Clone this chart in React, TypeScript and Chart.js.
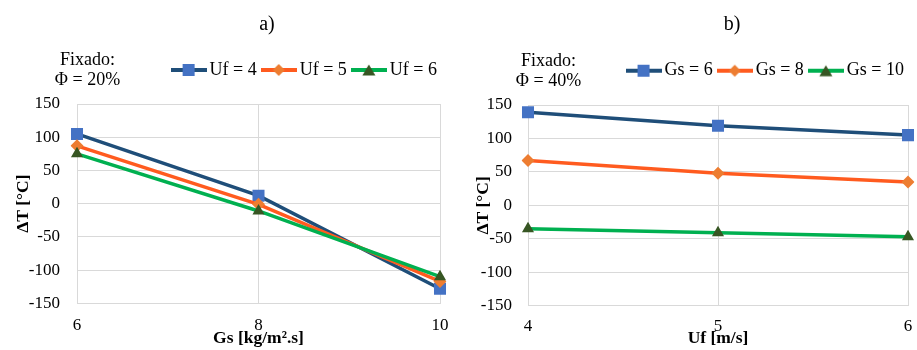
import React, { useEffect, useRef } from 'react';
import { Chart, registerables } from 'chart.js';

Chart.register(...registerables);

const FONT = '"Liberation Serif", "Times New Roman", serif';

// ---- data ----
const gsCategories = ['6', '8', '10'];
const ufCategories = ['4', '5', '6'];

const seriesUf4 = [105, 12, -128];
const seriesUf5 = [87, -1, -117];
const seriesUf6 = [75, -11, -110];

const seriesGs6 = [139, 119, 105];
const seriesGs8 = [67, 48, 35];
const seriesGs10 = [-35, -41, -47];

const namesA = ['Uf = 4', 'Uf = 5', 'Uf = 6'];
const namesB = ['Gs = 6', 'Gs = 8', 'Gs = 10'];

const yMin = -150;
const yMax = 150;
const yStep = 50;

// ---- styles ----
const lineColors = ['#1F4E79', '#FF5B1F', '#00B050'];
const markerColors = ['#4472C4', '#ED7D31', '#375623'];
const markerStyles = ['rect', 'rectRot', 'triangle'];
const markerRadii = [8.5, 6.5, 7];

function makeIcon(i: number): HTMLCanvasElement {
  const c = document.createElement('canvas');
  c.width = 36;
  c.height = 14;
  const ctx = c.getContext('2d')!;
  ctx.strokeStyle = lineColors[i];
  ctx.lineWidth = 4;
  ctx.beginPath();
  ctx.moveTo(0, 7);
  ctx.lineTo(36, 7);
  ctx.stroke();
  ctx.fillStyle = markerColors[i];
  ctx.beginPath();
  if (i === 0) {
    ctx.rect(12, 1, 12, 12);
  } else if (i === 1) {
    ctx.moveTo(18, 1);
    ctx.lineTo(24, 7);
    ctx.lineTo(18, 13);
    ctx.lineTo(12, 7);
    ctx.closePath();
  } else {
    ctx.moveTo(18, 1.5);
    ctx.lineTo(24.5, 12.5);
    ctx.lineTo(11.5, 12.5);
    ctx.closePath();
  }
  ctx.fill();
  return c;
}

type PanelDef = {
  x: number;
  w: number;
  categories: string[];
  series: number[][];
  names: string[];
  title: string;
  titlePos: [number, number];
  fixed: string[];
  fixedPos: [number, number, number];
  xTitle: string;
  padTop: number;
  padRight: number;
  legendExtra: number;
  yWidth: number;
  yTickPad: number;
  yTitlePad: number;
  xHeight: number;
  xTickPad: number;
  xPadRight: number;
};

const panels: PanelDef[] = [
  {
    x: 0,
    w: 458,
    categories: gsCategories,
    series: [seriesUf4, seriesUf5, seriesUf6],
    names: namesA,
    title: 'a)',
    titlePos: [267, 25],
    fixed: ['Fixado:', 'Φ = 20%'],
    fixedPos: [87.5, 60, 80],
    xTitle: 'Gs [kg/m².s]',
    padTop: 51,
    padRight: 11,
    legendExtra: 15,
    yWidth: 77,
    yTickPad: 17,
    yTitlePad: 13.3,
    xHeight: 46.7,
    xTickPad: 12.5,
    xPadRight: 18,
  },
  {
    x: 458,
    w: 459,
    categories: ufCategories,
    series: [seriesGs6, seriesGs8, seriesGs10],
    names: namesB,
    title: 'b)',
    titlePos: [274, 25],
    fixed: ['Fixado:', 'Φ = 40%'],
    fixedPos: [90.5, 61, 81],
    xTitle: 'Uf [m/s]',
    padTop: 51.7,
    padRight: 3,
    legendExtra: 15.3,
    yWidth: 70,
    yTickPad: 16,
    yTitlePad: 14.8,
    xHeight: 44.2,
    xTickPad: 10.5,
    xPadRight: 9,
  },
];

const legendGap = {
  id: 'legendGap',
  afterInit(chart: any, _args: any, opts: any) {
    const legend = chart.legend;
    if (legend && !legend.__patched) {
      const fit = legend.fit;
      legend.fit = function () {
        fit.call(this);
        this.height += opts.extra || 0;
      };
      legend.__patched = true;
    }
  },
};

const panelText = {
  id: 'panelText',
  afterDraw(chart: any, _args: any, opts: any) {
    const ctx = chart.ctx;
    ctx.save();
    ctx.fillStyle = '#000';
    ctx.textAlign = 'center';
    ctx.textBaseline = 'middle';
    ctx.font = `20px ${FONT}`;
    ctx.fillText(opts.title, opts.titlePos[0], opts.titlePos[1]);
    ctx.font = `18px ${FONT}`;
    ctx.fillText(opts.fixed[0], opts.fixedPos[0], opts.fixedPos[1]);
    ctx.fillText(opts.fixed[1], opts.fixedPos[0], opts.fixedPos[2]);
    ctx.restore();
  },
};

function buildConfig(p: PanelDef): any {
  const icons = p.names.map((_, i) => makeIcon(i));
  return {
    type: 'line',
    data: {
      labels: p.categories,
      datasets: p.series.map((data, i) => ({
        label: p.names[i],
        data,
        borderColor: lineColors[i],
        backgroundColor: markerColors[i],
        borderWidth: 3.5,
        tension: 0,
        fill: false,
        pointStyle: markerStyles[i],
        pointRadius: markerRadii[i],
        pointHoverRadius: markerRadii[i],
        pointBackgroundColor: markerColors[i],
        pointBorderColor: markerColors[i],
        pointBorderWidth: 0,
        order: 3 - i,
      })),
    },
    options: {
      animation: false,
      responsive: false,
      devicePixelRatio: 1,
      layout: { padding: { top: p.padTop, right: p.padRight, bottom: 0, left: 0 } },
      plugins: {
        title: { display: false },
        tooltip: { enabled: false },
        legend: {
          display: true,
          position: 'top',
          align: 'end',
          labels: {
            usePointStyle: true,
            pointStyleWidth: 24,
            padding: 10,
            color: '#000',
            font: { family: FONT, size: 18 },
            generateLabels: () =>
              p.names.map((n, i) => ({
                text: n,
                datasetIndex: i,
                pointStyle: icons[i],
                fillStyle: markerColors[i],
                strokeStyle: lineColors[i],
                lineWidth: 0,
                hidden: false,
                fontColor: '#000',
              })),
          },
        },
        legendGap: { extra: p.legendExtra },
        panelText: { title: p.title, titlePos: p.titlePos, fixed: p.fixed, fixedPos: p.fixedPos },
      },
      scales: {
        x: {
          type: 'category',
          offset: false,
          grid: { color: '#D9D9D9', drawTicks: false, lineWidth: 1 },
          border: { color: '#D9D9D9' },
          ticks: {
            padding: p.xTickPad,
            color: '#000',
            font: { family: FONT, size: 17 },
            maxRotation: 0,
            autoSkip: false,
          },
          title: {
            display: true,
            text: p.xTitle,
            color: '#000',
            font: { family: FONT, size: 17.5, weight: 'bold' },
            padding: { top: 0, bottom: 1.5 },
          },
          afterFit: (s: any) => {
            s.height = p.xHeight;
            s.paddingRight = p.xPadRight;
          },
        },
        y: {
          type: 'linear',
          min: yMin,
          max: yMax,
          grid: { color: '#D9D9D9', drawTicks: false, lineWidth: 1 },
          border: { color: '#D9D9D9' },
          ticks: {
            stepSize: yStep,
            padding: p.yTickPad,
            color: '#000',
            font: { family: FONT, size: 17 },
          },
          title: {
            display: true,
            text: 'ΔT [°C]',
            color: '#000',
            font: { family: FONT, size: 17.5, weight: 'bold' },
            padding: { top: p.yTitlePad, bottom: 0 },
          },
          afterFit: (s: any) => {
            s.width = p.yWidth;
          },
        },
      },
    },
    plugins: [legendGap, panelText],
  };
}

function ChartPanel({ panel }: { panel: PanelDef }) {
  const ref = useRef<HTMLCanvasElement>(null);
  useEffect(() => {
    if (!ref.current) return;
    const chart = new Chart(ref.current, buildConfig(panel));
    return () => chart.destroy();
  }, [panel]);
  return (
    <canvas
      ref={ref}
      width={panel.w}
      height={350}
      style={{ position: 'absolute', left: panel.x, top: 0, width: panel.w, height: 350, display: 'block' }}
    />
  );
}

export default function App() {
  return (
    <div style={{ position: 'fixed', left: 0, top: 0, width: 917, height: 350, background: '#fff', overflow: 'hidden' }}>
      {panels.map((p) => (
        <ChartPanel key={p.title} panel={p} />
      ))}
    </div>
  );
}
